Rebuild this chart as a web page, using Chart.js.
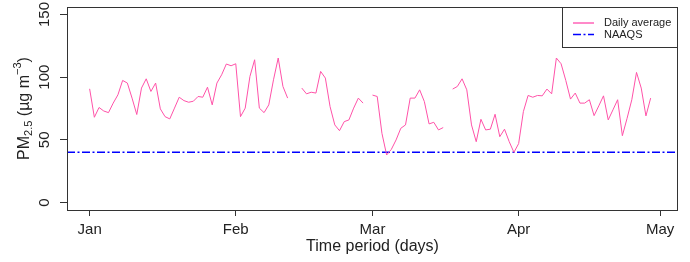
<!DOCTYPE html>
<html>
<head>
<meta charset="utf-8">
<script src="https://cdn.jsdelivr.net/npm/chart.js@4.4.1/dist/chart.umd.min.js"></script>
<style>
  html, body { margin: 0; padding: 0; background: #fff; }
  canvas { display: block; }
</style>
</head>
<body>
<canvas id="pmChart" width="690" height="262"></canvas>
<script>
// --- DATA ---
// daily PM2.5 means, one value per day starting 1 Jan (leap year), null = no data
const pm25 = [
  90.7, 68, 75.8, 73, 71.7, 79.3, 85.9, 97.4, 95.3, 83.3,
  70.2, 91.3, 98.7, 88.6, 95.3, 74.7, 68.5, 66.7, 75.3, 84,
  81.3, 80, 80.8, 84.6, 84, 92, 77.9, 95.3, 101.9, 110.5,
  109.1, 110.7, 68.5, 75.3, 100.6, 113.9, 75.3, 71.7, 77.9, 97.9,
  115.3, 92.6, 83.3, null, null, 91.3, 86.7, 88, 87.3, 104.6,
  99.3, 76.5, 61.9, 57.3, 64.5, 65.9, 75.3, 83.3, 79.3, null,
  85.7, 84.6, 55.2, 37.9, 42.4, 49.9, 59.2, 61.9, 83.3, 83.3,
  89.9, 80.5, 62.7, 64, 57.9, 59.8, null, 90.5, 92.6, 98.7,
  89.9, 61.9, 48.5, 66.4, 57.9, 58.5, 70.4, 52.5, 58.5, 48.5,
  40, 47, 72.5, 85.4, 84, 85.4, 85.1, 90.5, 86.7, 115.3,
  110.7, 97.4, 82.5, 87.3, 79.3, 79.3, 82, 69.3, 77.1, 85.1,
  65.9, 73.9, 82, 53.3, 67.2, 82, 103.8, 91.3, 69.1, 83.3
];
const naaqs = 40;
const monthTicks = [0, 31, 60, 91, 121];
const monthLabels = ['Jan', 'Feb', 'Mar', 'Apr', 'May'];
const yTicks = [0, 50, 100, 150];

// axis limits (R style 4% padding around 0..120 days and 0..150)
const xMin = -4.8, xMax = 124.8;
const yMin = -6, yMax = 156;

const FONT = 'Liberation Sans, Arial, sans-serif';
const INK = '#222';

// --- PLUGIN: box, rotated y labels, axis titles, legend ---
const rDecor = {
    id: 'rDecor',
    afterDraw(chart) {
        const ctx = chart.ctx;
        const area = chart.chartArea;
        const yScale = chart.scales.y;

        ctx.save();
        // plot box
        ctx.strokeStyle = '#333';
        ctx.lineWidth = 1;
        ctx.strokeRect(Math.round(area.left) + 0.5, Math.round(area.top) + 0.5,
            Math.round(area.right - area.left) - 1, Math.round(area.bottom - area.top));

        // y tick labels, vertical like R
        ctx.fillStyle = INK;
        ctx.font = '15px ' + FONT;
        ctx.textAlign = 'center';
        ctx.textBaseline = 'middle';
        yTicks.forEach(v => {
            const p = yScale.getPixelForValue(v);
            ctx.save();
            ctx.translate(area.left - 22, p);
            ctx.rotate(-Math.PI / 2);
            ctx.fillText(String(v), 0, 0);
            ctx.restore();
        });

        // x title
        ctx.font = '16px ' + FONT;
        ctx.fillText('Time period (days)', (area.left + area.right) / 2, area.bottom + 37);

        // y title with sub / superscript
        const parts = [
            { t: 'PM', size: 16, dy: 0 },
            { t: '2.5', size: 11, dy: 4 },
            { t: ' (\u00b5g m', size: 16, dy: 0 },
            { t: '\u22123', size: 11, dy: -7 },
            { t: ')', size: 16, dy: 0 }
        ];
        let total = 0;
        parts.forEach(p => { ctx.font = p.size + 'px ' + FONT; p.w = ctx.measureText(p.t).width; total += p.w; });
        ctx.save();
        ctx.translate(25, (area.top + area.bottom) / 2);
        ctx.rotate(-Math.PI / 2);
        ctx.textAlign = 'left';
        let x = -total / 2;
        parts.forEach(p => {
            ctx.font = p.size + 'px ' + FONT;
            ctx.fillText(p.t, x, p.dy);
            x += p.w;
        });
        ctx.restore();

        // legend
        const lx = 562, ly = 7, lw = 115, lh = 40;
        ctx.fillStyle = '#fff';
        ctx.fillRect(lx, ly, lw, lh);
        ctx.strokeStyle = '#333';
        ctx.strokeRect(lx + 0.5, ly + 0.5, lw, lh);
        ctx.font = '11px ' + FONT;
        ctx.textAlign = 'left';
        chart.data.datasets.forEach((ds, i) => {
            const yy = ly + 16 + i * 11.5;
            ctx.strokeStyle = i === 0 ? '#ff1493' : ds.borderColor;
            ctx.lineWidth = ds.borderWidth;
            ctx.setLineDash(ds.borderDash || []);
            ctx.beginPath();
            ctx.moveTo(lx + 11, yy);
            ctx.lineTo(lx + 32, yy);
            ctx.stroke();
            ctx.setLineDash([]);
            ctx.fillStyle = INK;
            ctx.fillText(ds.label, lx + 42, yy);
        });
        ctx.restore();
    }
};

// --- CHART ---
function initChart() {
    const ctx = document.getElementById('pmChart').getContext('2d');
    new Chart(ctx, {
        type: 'line',
        data: {
            datasets: [{
                label: 'Daily average',
                data: pm25.map((v, i) => ({ x: i, y: v })),
                borderColor: '#ff52a8',
                borderWidth: 1,
                pointRadius: 0,
                spanGaps: false,
                tension: 0
            }, {
                label: 'NAAQS',
                data: [{ x: xMin, y: naaqs }, { x: xMax, y: naaqs }],
                borderColor: '#0000ff',
                borderWidth: 1.5,
                borderDash: [8, 2.5, 2, 2.5],
                pointRadius: 0
            }]
        },
        options: {
            responsive: false,
            devicePixelRatio: 1,
            animation: false,
            layout: { padding: { top: 7, right: 12, left: 0, bottom: 0 } },
            plugins: { legend: { display: false }, tooltip: { enabled: false } },
            scales: {
                x: {
                    type: 'linear',
                    min: xMin,
                    max: xMax,
                    afterBuildTicks: s => { s.ticks = monthTicks.map(v => ({ value: v })); },
                    afterFit: s => { s.height = 52; },
                    ticks: {
                        callback: (v, i) => monthLabels[i],
                        color: INK,
                        font: { size: 15, family: FONT },
                        padding: 5,
                        maxRotation: 0,
                        autoSkip: false
                    },
                    grid: { drawOnChartArea: false, tickLength: 6, color: '#333' },
                    border: { display: false }
                },
                y: {
                    type: 'linear',
                    min: yMin,
                    max: yMax,
                    afterBuildTicks: s => { s.ticks = yTicks.map(v => ({ value: v })); },
                    afterFit: s => { s.width = 67; },
                    ticks: { display: false },
                    grid: { drawOnChartArea: false, tickLength: 7, color: '#333' },
                    border: { display: false }
                }
            }
        },
        plugins: [rDecor]
    });
}

document.addEventListener('DOMContentLoaded', initChart);
</script>
</body>
</html>
